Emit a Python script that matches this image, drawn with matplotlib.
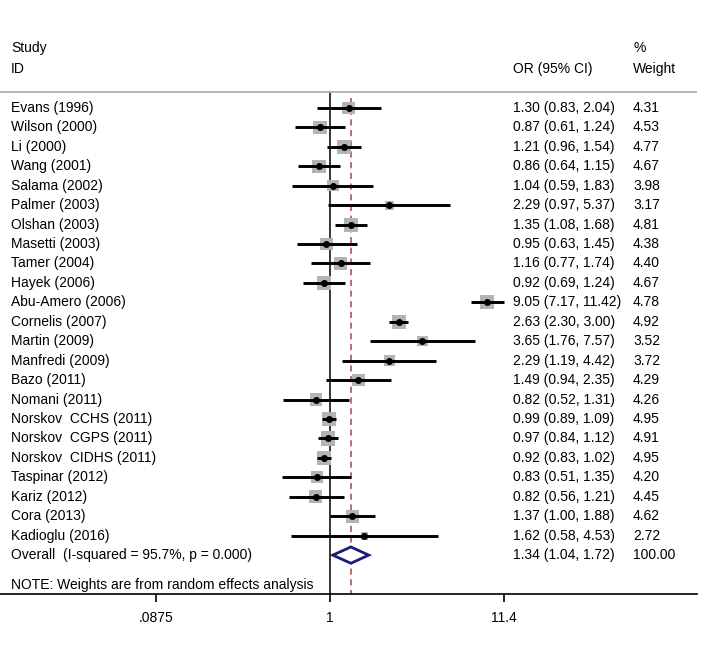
import numpy as np
import matplotlib.pyplot as plt

plt.rcParams['font.family'] = ['Liberation Sans', 'DejaVu Sans']

studies = ['Evans (1996)', 'Wilson (2000)', 'Li (2000)', 'Wang (2001)', 'Salama (2002)',
           'Palmer (2003)', 'Olshan (2003)', 'Masetti (2003)', 'Tamer (2004)', 'Hayek (2006)',
           'Abu-Amero (2006)', 'Cornelis (2007)', 'Martin (2009)', 'Manfredi (2009)',
           'Bazo (2011)', 'Nomani (2011)', 'Norskov  CCHS (2011)', 'Norskov  CGPS (2011)',
           'Norskov  CIDHS (2011)', 'Taspinar (2012)', 'Kariz (2012)', 'Cora (2013)',
           'Kadioglu (2016)']
odds = [1.30, 0.87, 1.21, 0.86, 1.04, 2.29, 1.35, 0.95, 1.16, 0.92, 9.05, 2.63, 3.65,
        2.29, 1.49, 0.82, 0.99, 0.97, 0.92, 0.83, 0.82, 1.37, 1.62]
lower = [0.83, 0.61, 0.96, 0.64, 0.59, 0.97, 1.08, 0.63, 0.77, 0.69, 7.17, 2.30, 1.76,
         1.19, 0.94, 0.52, 0.89, 0.84, 0.83, 0.51, 0.56, 1.00, 0.58]
upper = [2.04, 1.24, 1.54, 1.15, 1.83, 5.37, 1.68, 1.45, 1.74, 1.24, 11.42, 3.00, 7.57,
         4.42, 2.35, 1.31, 1.09, 1.12, 1.02, 1.35, 1.21, 1.88, 4.53]
weights = [4.31, 4.53, 4.77, 4.67, 3.98, 3.17, 4.81, 4.38, 4.40, 4.67, 4.78, 4.92, 3.52,
           3.72, 4.29, 4.26, 4.95, 4.91, 4.95, 4.20, 4.45, 4.62, 2.72]
overall = (1.34, 1.04, 1.72)
overall_label = 'Overall  (I-squared = 95.7%, p = 0.000)'
xticks = [0.0875, 1, 11.4]
xtick_labels = ['.0875', '1', '11.4']

fig = plt.figure(figsize=(7.2, 6.57), dpi=100)
ax = fig.add_axes([0, 63 / 657, 697 / 720, 594 / 657])
ax.set_xscale('log')
ax.set_xlim(0.00988, 170)
ax.set_ylim(26.0, -4.553)

n = len(studies)
rows = np.arange(1, n + 1)
ov_row = n + 1

# CI lines
ax.hlines(rows, lower, upper, color='black', lw=2.1, zorder=3)
# weight boxes
sizes = (2.9 * np.array(weights) * 0.72) ** 2
ax.scatter(odds, rows, s=sizes, marker='s', color='#b4b4b4', lw=0, zorder=2)
ax.plot(odds, rows, 'o', color='black', ms=4, zorder=4)

# reference lines
ax.axhline(0.16, color='#b0b0b0', lw=1.3)
ax.plot([1, 1], [0.16, 26], color='black', lw=1.1, zorder=1)
ax.plot([overall[0]] * 2, [0.5, 26], color='#a8424a', lw=1.1, ls=(0, (4, 3)), zorder=1)

# diamond
est, lo, hi = overall
ax.fill([lo, est, hi, est, lo], [ov_row, ov_row - 0.42, ov_row, ov_row + 0.42, ov_row],
        facecolor='white', edgecolor='#1b1b7a', lw=2, zorder=5)

# table text
tr = ax.get_yaxis_transform()
fs = 10
ax.text(11 / 697, -2.08, 'Study', transform=tr, fontsize=fs, va='center')
ax.text(11 / 697, -1.0, 'ID', transform=tr, fontsize=fs, va='center')
ax.text(513 / 697, -1.0, 'OR (95% CI)', transform=tr, fontsize=fs, va='center')
ax.text(633 / 697, -2.08, '%', transform=tr, fontsize=fs, va='center')
ax.text(633 / 697, -1.0, 'Weight', transform=tr, fontsize=fs, va='center')
for i in range(n):
    ax.text(11 / 697, rows[i], studies[i], transform=tr, fontsize=fs, va='center')
    ax.text(513 / 697, rows[i], f'{odds[i]:.2f} ({lower[i]:.2f}, {upper[i]:.2f})',
            transform=tr, fontsize=fs, va='center')
    ax.text(633 / 697, rows[i], f'{weights[i]:.2f}', transform=tr, fontsize=fs, va='center')
ax.text(11 / 697, ov_row, overall_label, transform=tr, fontsize=fs, va='center')
ax.text(513 / 697, ov_row, f'{est:.2f} ({lo:.2f}, {hi:.2f})', transform=tr, fontsize=fs, va='center')
ax.text(633 / 697, ov_row, '100.00', transform=tr, fontsize=fs, va='center')
ax.text(11 / 697, 25.52, 'NOTE: Weights are from random effects analysis', transform=tr,
        fontsize=fs, va='center')

# axis
for s in ['top', 'left', 'right']:
    ax.spines[s].set_visible(False)
ax.spines['bottom'].set_linewidth(1.2)
ax.set_yticks([])
ax.set_xticks(xticks)
ax.set_xticklabels(xtick_labels, fontsize=fs)
ax.xaxis.set_minor_locator(plt.NullLocator())
ax.tick_params(axis='x', length=6, width=1.2, pad=6)

fig.savefig('out.png', dpi=100)
